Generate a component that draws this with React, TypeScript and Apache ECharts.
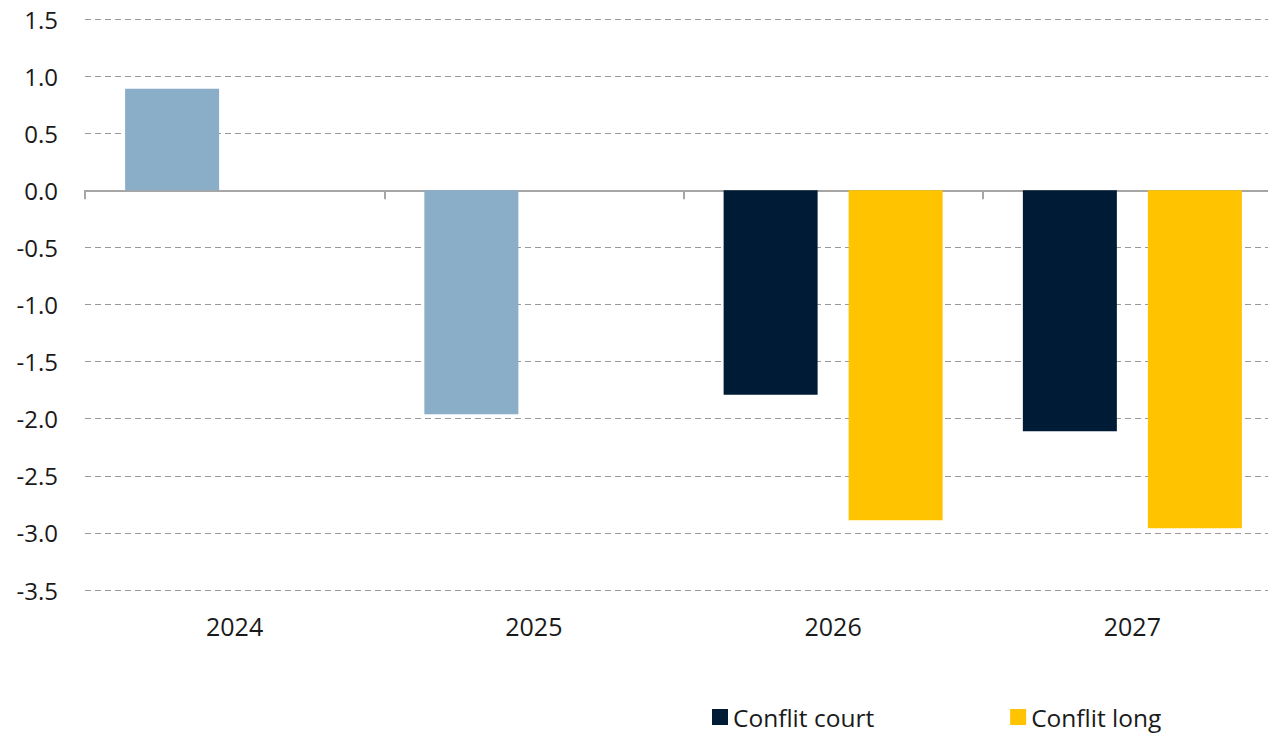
import React, { useEffect, useRef } from "react";
import * as echarts from "echarts";

const categories = ["2024", "2025", "2026", "2027"];
const historique = [0.89, -1.96, "-", "-"];
const conflitCourt = ["-", "-", -1.79, -2.11];
const conflitLong = ["-", "-", -2.89, -2.96];
const yMin = -3.5;
const yMax = 1.5;
const yStep = 0.5;

export default function App() {
  const ref = useRef<HTMLDivElement>(null);
  useEffect(() => {
    if (!ref.current) return;
    const chart = echarts.init(ref.current, null, { renderer: "svg" });
    const font = "'Open Sans', 'Noto Sans', sans-serif";
    chart.setOption({
      animation: false,
      backgroundColor: "#ffffff",
      textStyle: { fontFamily: font },
      grid: { left: 85, right: 18, top: 19, bottom: 144, containLabel: false },
      legend: {
        data: ["Conflit court", "Conflit long"],
        left: 707,
        top: 699,
        icon: "rect",
        itemWidth: 16,
        itemHeight: 16,
        itemGap: 136,
        padding: 5,
        textStyle: { fontSize: 24.5, color: "#1a1a1a", fontFamily: font, lineHeight: 26 },
      },
      xAxis: [
        {
          type: "category",
          data: categories,
          position: "bottom",
          axisLine: { onZero: true, lineStyle: { color: "#a6a6a6", width: 2 } },
          axisTick: { show: true, length: 9, lineStyle: { color: "#a6a6a6", width: 2 } },
          axisLabel: { show: false },
          splitLine: { show: false },
        },
        {
          type: "category",
          data: categories,
          position: "bottom",
          axisLine: { show: false, onZero: false },
          axisTick: { show: false },
          axisLabel: { show: true, fontSize: 25, color: "#1a1a1a", margin: 23, fontFamily: font },
          splitLine: { show: false },
        },
      ],
      yAxis: {
        type: "value",
        min: yMin,
        max: yMax,
        interval: yStep,
        axisLine: { show: false },
        axisTick: { show: false },
        axisLabel: {
          fontSize: 24,
          color: "#1a1a1a",
          margin: 27,
          fontFamily: font,
          formatter: (v: number) => v.toFixed(1),
        },
        splitLine: { show: true, lineStyle: { color: "#999999", type: [6, 4], width: 1 } },
      },
      series: [
        {
          name: "Historique",
          type: "bar",
          stack: "a",
          xAxisIndex: 0,
          data: historique,
          barWidth: 94,
          barGap: "33%",
          itemStyle: { color: "#8AADC8" },
        },
        {
          name: "Conflit court",
          type: "bar",
          stack: "a",
          xAxisIndex: 0,
          data: conflitCourt,
          barWidth: 94,
          barGap: "33%",
          itemStyle: { color: "#001B35" },
        },
        {
          name: "Conflit long",
          type: "bar",
          xAxisIndex: 0,
          data: conflitLong,
          barWidth: 94,
          barGap: "33%",
          itemStyle: { color: "#FFC300" },
        },
      ],
    });
    return () => chart.dispose();
  }, []);
  return (
    <div style={{ position: "fixed", left: 0, top: 0, width: 1268, height: 734, overflow: "hidden", background: "#fff" }}>
      <div ref={ref} style={{ width: 1300, height: 734 }} />
    </div>
  );
}
